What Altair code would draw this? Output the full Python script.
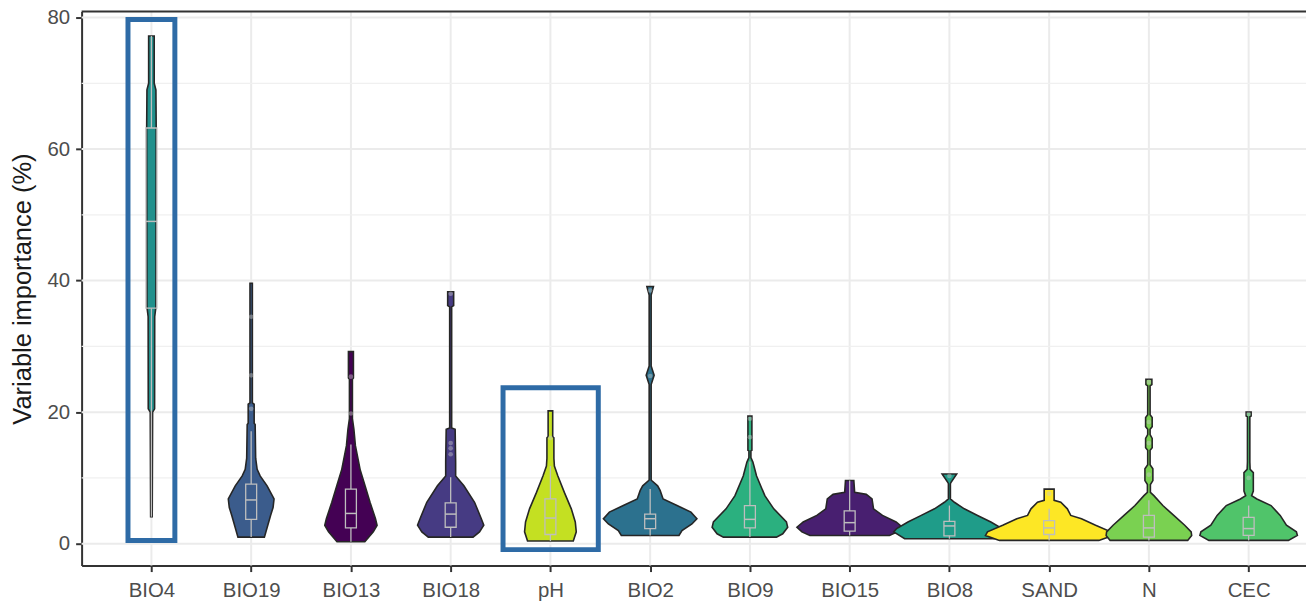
import json
import altair as alt
import pandas as pd

# ---------------- data ----------------
categories = ["BIO4", "BIO19", "BIO13", "BIO18", "pH", "BIO2",
              "BIO9", "BIO15", "BIO8", "SAND", "N", "CEC"]
fill_colors = ["#21908C", "#3B5C8C", "#440154", "#463B83", "#C4E022", "#2C718E",
               "#2BB07F", "#481F70", "#1F9C89", "#FDE725", "#7AD151", "#50C46A"]

# violin outlines: value levels (%) and half-width (density, in px)
bio4_y = [4.1, 20.0, 20.5, 34.5, 36.0, 63.0, 69.0, 70.0, 77.2]
bio4_w = [0.8, 1.2, 3.2, 3.3, 4.5, 4.8, 4.5, 2.8, 2.8]
bio19_y = [1.0, 4.3, 5.5, 6.8, 8.8, 10.3, 11.3, 13.0, 18.1, 18.3, 21.2, 21.4, 39.6]
bio19_w = [13.3, 19.5, 22.0, 23.0, 16.0, 9.0, 6.0, 4.5, 4.0, 3.0, 3.0, 1.2, 1.2]
bio13_y = [0.3, 1.8, 2.8, 3.8, 6.3, 8.8, 11.3, 14.9, 17.4, 19.0, 25.0, 25.2, 29.2]
bio13_w = [14.0, 22.5, 26.3, 24.7, 19.2, 14.2, 9.2, 4.5, 3.0, 1.5, 1.5, 2.5, 2.5]
bio18_y = [1.0, 1.8, 2.8, 3.8, 6.3, 8.8, 10.3, 12.4, 17.4, 17.6, 36.0, 36.2, 38.3]
bio18_w = [22.5, 29.0, 33.3, 30.8, 24.0, 13.3, 5.0, 5.0, 4.5, 1.0, 1.0, 3.0, 3.0]
ph_y = [0.4, 1.8, 3.3, 5.3, 7.8, 10.3, 11.8, 13.0, 16.1, 16.3, 20.2]
ph_w = [23.0, 26.0, 25.0, 21.0, 14.0, 7.5, 4.0, 3.5, 3.5, 2.3, 2.3]
bio2_y = [1.25, 2.0, 3.0, 3.8, 4.8, 5.8, 6.8, 8.1, 8.8, 9.6, 9.7, 24.2, 25.6, 27.0,
          37.8, 39.1]
bio2_w = [29.0, 32.0, 42.0, 47.0, 41.0, 27.0, 13.0, 10.0, 7.5, 1.5, 1.0, 1.0, 4.0, 1.0,
          1.0, 3.3]
bio9_y = [1.0, 1.5, 2.5, 3.3, 5.3, 7.3, 10.3, 12.4, 13.1, 14.1, 14.2, 19.4]
bio9_w = [26.7, 33.0, 38.0, 36.7, 24.0, 15.0, 6.7, 3.0, 1.0, 1.0, 2.0, 2.0]
bio15_y = [1.25, 1.8, 2.5, 3.3, 4.3, 5.3, 6.8, 7.5, 7.8, 9.6]
bio15_w = [40.0, 48.0, 53.0, 46.7, 33.0, 24.0, 22.5, 16.7, 5.0, 4.2]
bio8_y = [0.75, 1.8, 2.3, 3.3, 4.3, 5.3, 6.3, 6.8, 9.1, 9.3, 10.6]
bio8_w = [45.0, 56.0, 53.0, 41.7, 28.3, 15.0, 5.0, 1.0, 1.0, 1.5, 7.3]
sand_y = [0.5, 1.25, 1.8, 2.8, 3.8, 4.3, 5.3, 6.3, 6.6, 8.3]
sand_w = [50.0, 64.0, 62.0, 46.7, 32.5, 21.7, 18.3, 11.7, 5.0, 5.0]
n_y = [0.5, 1.25, 1.8, 2.8, 4.3, 5.8, 7.3, 7.8, 9.0, 9.6, 11.4, 12.0, 14.2, 14.6, 16.0,
       16.6, 17.4, 17.8, 19.2, 19.6, 24.0, 24.2, 25.0]
n_w = [39.0, 43.0, 42.5, 36.0, 25.0, 14.0, 5.0, 1.5, 1.5, 4.0, 4.0, 1.2, 1.2, 3.3, 3.3,
       1.2, 1.2, 3.3, 3.3, 1.2, 1.2, 3.0, 3.0]
cec_y = [0.5, 1.25, 1.8, 2.8, 4.3, 5.8, 6.8, 7.3, 8.0, 10.8, 11.3, 12.4, 19.3, 19.4, 20.0]
cec_w = [40.0, 49.0, 48.0, 38.0, 31.7, 22.5, 8.3, 3.0, 4.7, 4.7, 1.5, 1.2, 1.2, 2.5, 2.5]

violin_ys = [bio4_y, bio19_y, bio13_y, bio18_y, ph_y, bio2_y, bio9_y, bio15_y, bio8_y,
             sand_y, n_y, cec_y]
violin_ws = [bio4_w, bio19_w, bio13_w, bio18_w, ph_w, bio2_w, bio9_w, bio15_w, bio8_w,
             sand_w, n_w, cec_w]

# box plot statistics
q1 = [35.8, 3.7, 2.4, 2.5, 1.4, 2.3, 2.4, 1.9, 1.2, 1.4, 1.0, 1.25]
median = [49.0, 6.65, 4.6, 4.5, 3.9, 3.8, 3.7, 3.2, 2.7, 2.4, 2.4, 2.3]
q3 = [63.2, 9.07, 8.3, 6.2, 6.8, 4.5, 5.8, 5.0, 3.4, 3.5, 4.3, 4.0]
whisker_hi = [77.2, 17.1, 15.1, 10.1, 11.8, 8.3, 12.5, 9.6, 5.8, 5.3, 6.6, 5.8]
whisker_lo = [4.1, 1.0, 0.3, 1.0, 0.4, 1.25, 1.0, 1.25, 0.75, 0.5, 0.5, 0.5]

# faint outlier points
outlier_cat = ["BIO19", "BIO19", "BIO19", "BIO13", "BIO13", "BIO18", "BIO18", "BIO18",
               "BIO18", "pH", "BIO2", "BIO2", "BIO9", "BIO9", "BIO8", "SAND", "N", "N",
               "N", "N", "CEC", "CEC"]
outlier_val = [34.5, 25.6, 20.5, 25.4, 19.8, 38.0, 15.3, 14.5, 13.6, 16.1, 25.5, 38.5,
               16.2, 19.0, 10.3, 7.6, 24.6, 18.5, 15.3, 10.5, 19.7, 10.0]

# highlight boxes: category, lower and upper value
highlight_cat = ["BIO4", "pH"]
highlight_lo = [0.5, -0.9]
highlight_hi = [79.7, 23.7]

y_major = [0, 20, 40, 60, 80]
y_minor = [10, 30, 50, 70]

# ---------------- layout / style ----------------
W, H = 1231, 557
XDOM = [-0.7, 11.575]
YDOM = [-3.33, 80.9]
PX_UNIT = W / (XDOM[1] - XDOM[0])
BOX_HALF = 5.5 / PX_UNIT
FONT = "Liberation Sans"

xscale = alt.Scale(domain=XDOM, nice=False, zero=False)
yscale = alt.Scale(domain=YDOM, nice=False, zero=False)
label_expr = json.dumps(categories) + "[datum.value]"
x_axis = alt.Axis(values=list(range(len(categories))), labelExpr=label_expr, title=None,
                  grid=False)
y_axis = alt.Axis(values=y_major, title="Variable importance (%)", grid=False)


def X(field):
    return alt.X(field, type="quantitative", scale=xscale, axis=x_axis)


def Y(field):
    return alt.Y(field, type="quantitative", scale=yscale, axis=y_axis)


idx = {c: i for i, c in enumerate(categories)}

layers = []

# grid
layers.append(alt.Chart(pd.DataFrame({"i": list(range(len(categories)))}))
              .mark_rule(color="#EBEBEB", strokeWidth=2).encode(x=X("i")))
layers.append(alt.Chart(pd.DataFrame({"v": y_minor}))
              .mark_rule(color="#F0F0F0", strokeWidth=1.3).encode(y=Y("v")))
layers.append(alt.Chart(pd.DataFrame({"v": y_major}))
              .mark_rule(color="#EBEBEB", strokeWidth=2).encode(y=Y("v")))

# violins
for i, (cat, yv, wv, col) in enumerate(zip(categories, violin_ys, violin_ws, fill_colors)):
    df = pd.DataFrame({
        "y": yv,
        "xl": [i - w / PX_UNIT for w in wv],
        "xr": [i + w / PX_UNIT for w in wv],
    })
    layers.append(alt.Chart(df).mark_area(orient="horizontal", fill=col, stroke="#262626",
                                          strokeWidth=1.6)
                  .encode(y=Y("y"), x=X("xl"), x2="xr"))

box_df = pd.DataFrame({
    "i": list(range(len(categories))),
    "bl": [i - BOX_HALF for i in range(len(categories))],
    "br": [i + BOX_HALF for i in range(len(categories))],
    "q1": q1, "med": median, "q3": q3, "hi": whisker_hi, "lo": whisker_lo,
})
box_col = "#BEBEBE"
layers.append(alt.Chart(box_df).mark_rule(color=box_col, strokeWidth=1.3)
              .encode(x=X("i"), y=Y("q3"), y2="hi"))
layers.append(alt.Chart(box_df).mark_rule(color=box_col, strokeWidth=1.3)
              .encode(x=X("i"), y=Y("lo"), y2="q1"))
layers.append(alt.Chart(box_df).mark_rect(fillOpacity=0, stroke=box_col, strokeWidth=1.3)
              .encode(x=X("bl"), x2="br", y=Y("q1"), y2="q3"))
layers.append(alt.Chart(box_df).mark_rule(color=box_col, strokeWidth=1.5)
              .encode(x=X("bl"), x2="br", y=Y("med")))

out_df = pd.DataFrame({"i": [idx[c] for c in outlier_cat], "v": outlier_val})
layers.append(alt.Chart(out_df).mark_circle(color="#C8C8C8", opacity=0.45, size=22)
              .encode(x=X("i"), y=Y("v")))

hl_df = pd.DataFrame({
    "l": [idx[c] - (0.235 if c == "BIO4" else 0.475) for c in highlight_cat],
    "r": [idx[c] + (0.235 if c == "BIO4" else 0.48) for c in highlight_cat],
    "lo": highlight_lo, "hi": highlight_hi,
})
layers.append(alt.Chart(hl_df).mark_rect(fillOpacity=0, stroke="#2E6BA6", strokeWidth=5)
              .encode(x=X("l"), x2="r", y=Y("lo"), y2="hi"))

# top panel border
layers.append(alt.Chart(pd.DataFrame({"a": [0]})).mark_rule(color="#333333", strokeWidth=2)
              .encode(x=alt.value(0), x2=alt.value(W), y=alt.value(0)))

chart = (alt.layer(*layers)
         .properties(width=W, height=H,
                     autosize=alt.AutoSizeParams(type="none"),
                     padding={"left": 74, "top": 2, "right": 0, "bottom": 36})
         .configure_view(stroke=None)
         .configure_axis(domainColor="#333333", domainWidth=2, tickColor="#333333",
                         tickWidth=2, tickSize=6, labelFont=FONT, labelFontSize=20.5,
                         labelColor="#4D4D4D", titleFont=FONT,
                         titleFontSize=25.6, titleFontWeight="normal", titleColor="#1A1A1A",
                         titlePadding=12)
         .configure_axisX(labelPadding=9)
         .configure_axisY(labelPadding=6))

chart.save("out.html", embed_options={"renderer": "svg", "actions": False})
